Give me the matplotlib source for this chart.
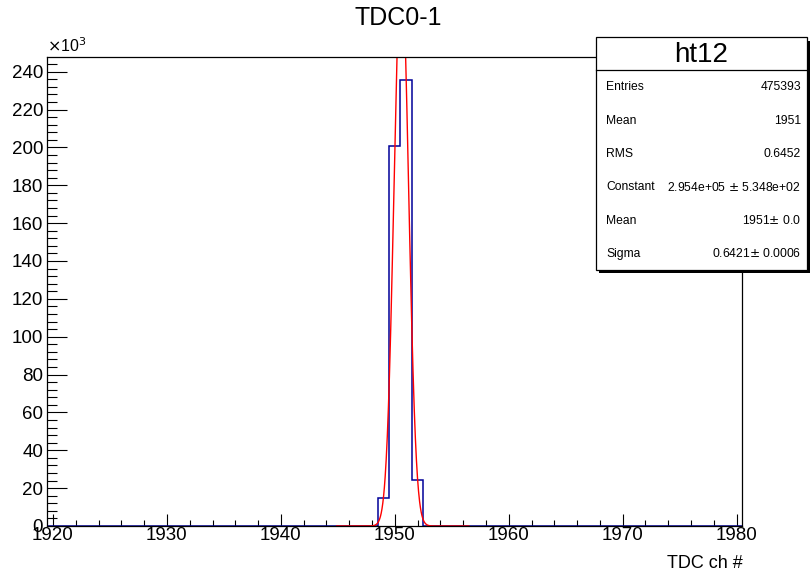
import numpy as np
import matplotlib
matplotlib.use("Agg")
import matplotlib.pyplot as plt
from matplotlib.patches import Rectangle
from matplotlib.ticker import MultipleLocator, FuncFormatter

plt.rcParams["font.family"] = ["Liberation Sans", "DejaVu Sans"]

# histogram ht12 (1 ch bins, 1919.5 .. 1980.5)
hist_lo, hist_hi = 1919.5, 1980.5
peak_bins = [1949, 1950, 1951, 1952]
peak_counts = [14700, 200600, 235600, 24500]

# gaus fit result
fit_const = 2.954e5
fit_mean = 1950.57
fit_sigma = 0.6421
fit_lo, fit_hi = 1944.9, 1956.5

stat_labels = ["Entries", "Mean", "RMS", "Constant", "Mean", "Sigma"]
stat_values = ["475393", "1951", "0.6452", "2.954e+05 $\\pm$ 5.348e+02",
               "1951$\\pm$ 0.0", "0.6421$\\pm$ 0.0006"]

W, H = 810, 574
fig = plt.figure(figsize=(W / 100, H / 100), dpi=100)
ax = fig.add_axes([47.3 / W, 1 - 526 / H, (742.3 - 47.3) / W, (526 - 57.3) / H])

edges = np.arange(hist_lo, hist_hi + 0.5, 1.0)
ax.hist(peak_bins, bins=edges, weights=peak_counts, histtype="step",
        color="#000099", lw=1.1)

xf = np.linspace(fit_lo, fit_hi, 500)
yf = fit_const * np.exp(-0.5 * ((xf - fit_mean) / fit_sigma) ** 2)
ax.plot(xf, yf, color="red", lw=1.0)

ax.set_xlim(hist_lo, hist_hi)
ax.set_ylim(0, 247600)

ax.xaxis.set_major_locator(MultipleLocator(10))
ax.xaxis.set_minor_locator(MultipleLocator(2))
ax.yaxis.set_major_locator(MultipleLocator(20000))
ax.yaxis.set_minor_locator(MultipleLocator(4000))
ax.yaxis.set_major_formatter(FuncFormatter(lambda v, p: "%d" % round(v / 1000)))

ax.tick_params(axis="x", which="major", direction="in", length=9, width=0.8,
               labelsize=13.5, pad=1)
ax.tick_params(axis="x", which="minor", direction="in", length=4.5, width=0.8)
ax.tick_params(axis="y", which="major", direction="in", length=14.5, width=0.8,
               labelsize=13.5, pad=3)
ax.tick_params(axis="y", which="minor", direction="in", length=7, width=0.8)
for s in ax.spines.values():
    s.set_linewidth(0.9)

fig.text(398 / W, 1 - 18 / H, "TDC0-1", ha="center", va="center", fontsize=18)
fig.text(743 / W, 1 - 563 / H, "TDC ch #", ha="right", va="center", fontsize=13)
fig.text(47 / W, 1 - 46 / H, "$\\times$10$^3$", ha="left", va="center", fontsize=11.5)

# stats box with shadow
bx0, bx1, by0, by1 = 595.5, 807, 37.5, 270
shadow = 3
fig.patches.append(Rectangle(((bx0 + shadow) / W, 1 - (by1 + shadow) / H),
                             (bx1 - bx0) / W, (by1 - by0) / H,
                             transform=fig.transFigure, facecolor="black",
                             lw=0, zorder=5))
fig.patches.append(Rectangle((bx0 / W, 1 - by1 / H), (bx1 - bx0) / W, (by1 - by0) / H,
                             transform=fig.transFigure, facecolor="white",
                             edgecolor="black", lw=0.9, zorder=6))
fig.add_artist(plt.Line2D([bx0 / W, bx1 / W], [1 - 70 / H, 1 - 70 / H],
                          transform=fig.transFigure, color="black", lw=0.9, zorder=7))
fig.text((bx0 + bx1) / 2 / W, 1 - 55 / H, "ht12", ha="center", va="center",
         fontsize=20, zorder=8)
for i, (lab, val) in enumerate(zip(stat_labels, stat_values)):
    yy = 1 - (87.5 + i * 33.3) / H
    fig.text(606 / W, yy, lab, ha="left", va="center", fontsize=8.7, zorder=8)
    fig.text(801 / W, yy, val, ha="right", va="center", fontsize=8.7, zorder=8)

fig.savefig("out.png", dpi=100)
